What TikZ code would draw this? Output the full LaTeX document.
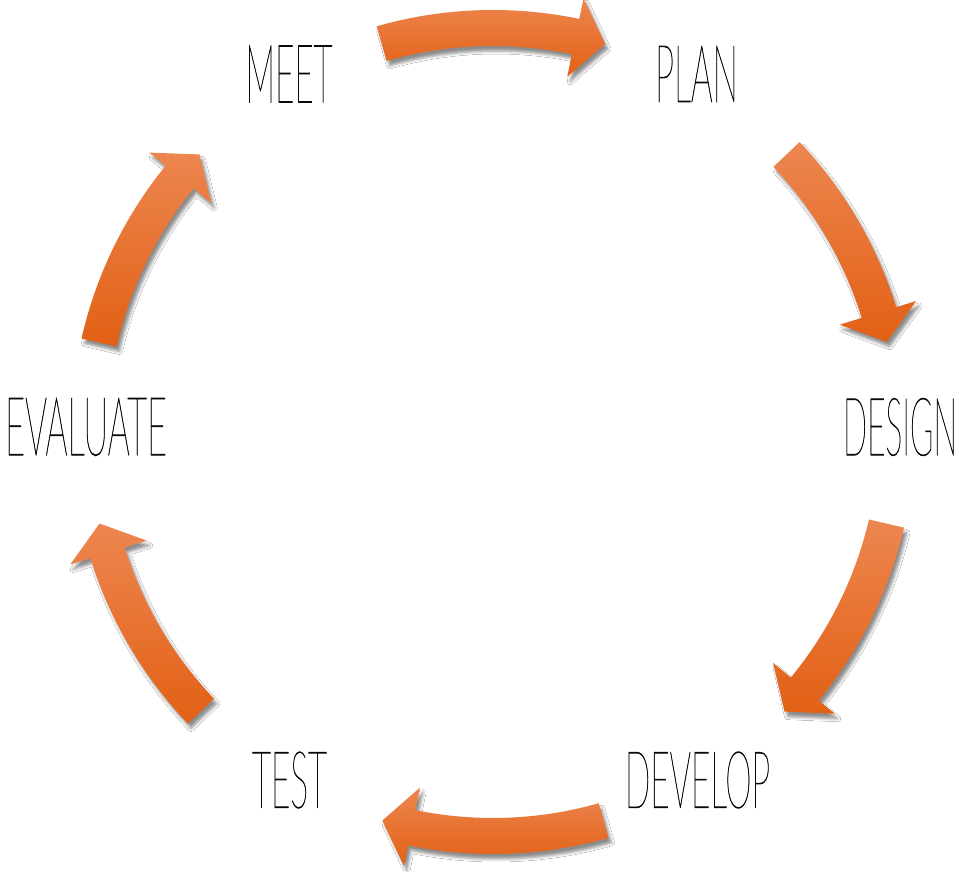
\documentclass[tikz,border=0pt]{standalone}
\usepackage{fontspec}
\usepackage{graphicx}
\usetikzlibrary{shadows.blur}
\IfFontExistsTF{Lato Thin}{\newfontfamily\lblfont{Lato Thin}[FakeBold=1]}{%
 \IfFontExistsTF{Lato Light}{\newfontfamily\lblfont{Lato Light}}{%
  \IfFontExistsTF{Open Sans Light}{\newfontfamily\lblfont{Open Sans Light}}{%
   \newfontfamily\lblfont{Lato}}}}
\definecolor{arrowtop}{RGB}{237,134,80}
\definecolor{arrowmid}{RGB}{240,114,36}
\definecolor{arrowbot}{RGB}{226,96,20}
\definecolor{labelink}{RGB}{10,10,10}
\tikzset{
  cyclearrow/.style={top color=arrowtop, middle color=arrowmid, bottom color=arrowbot,
    blur shadow={shadow xshift=3pt, shadow yshift=-5pt, shadow blur radius=3pt, shadow opacity=45}},
  stagelabel/.style={inner sep=0pt, outer sep=0pt, text=labelink}
}
\newcommand\drawcyclearrow[2]{%
  \pgfmathsetmacro\abase{#2+4.3}%
  \path[cyclearrow] (#1:422pt) arc[start angle=#1, end angle=\abase, radius=422pt]
    -- (\abase:443pt) -- (#2:404pt) -- (\abase:363pt) -- (\abase:386pt)
    arc[start angle=\abase, end angle=#1, radius=386pt] -- cycle;%
}
\begin{document}
\begin{tikzpicture}[x=1pt,y=1pt]
\useasboundingbox[fill=white] (-493,-439) rectangle (466,432);
\coordinate (c) at (0,0);
% arrows
\drawcyclearrow{106.0}{73.9}
\drawcyclearrow{43.4}{12.9}
\drawcyclearrow{-13.1}{-43.8}
\drawcyclearrow{-74.1}{-105.9}
\drawcyclearrow{-136.3}{-166.9}
\drawcyclearrow{167.2}{136.6}
% labels
\node[stagelabel] (meet) at (-204,358) {\resizebox{87pt}{57pt}{\lblfont MEET}};
\node[stagelabel] (plan) at (203.5,358) {\resizebox{83pt}{56pt}{\lblfont PLAN}};
\node[stagelabel] (design) at (407,5) {\resizebox{114pt}{57pt}{\lblfont DESIGN}};
\node[stagelabel] (evaluate) at (-407,5) {\resizebox{162pt}{57pt}{\lblfont EVALUATE}};
\node[stagelabel] (develop) at (204.5,-348) {\resizebox{145pt}{56pt}{\lblfont DEVELOP}};
\node[stagelabel] (test) at (-203.5,-348) {\resizebox{75pt}{56pt}{\lblfont TEST}};
\end{tikzpicture}
\end{document}
